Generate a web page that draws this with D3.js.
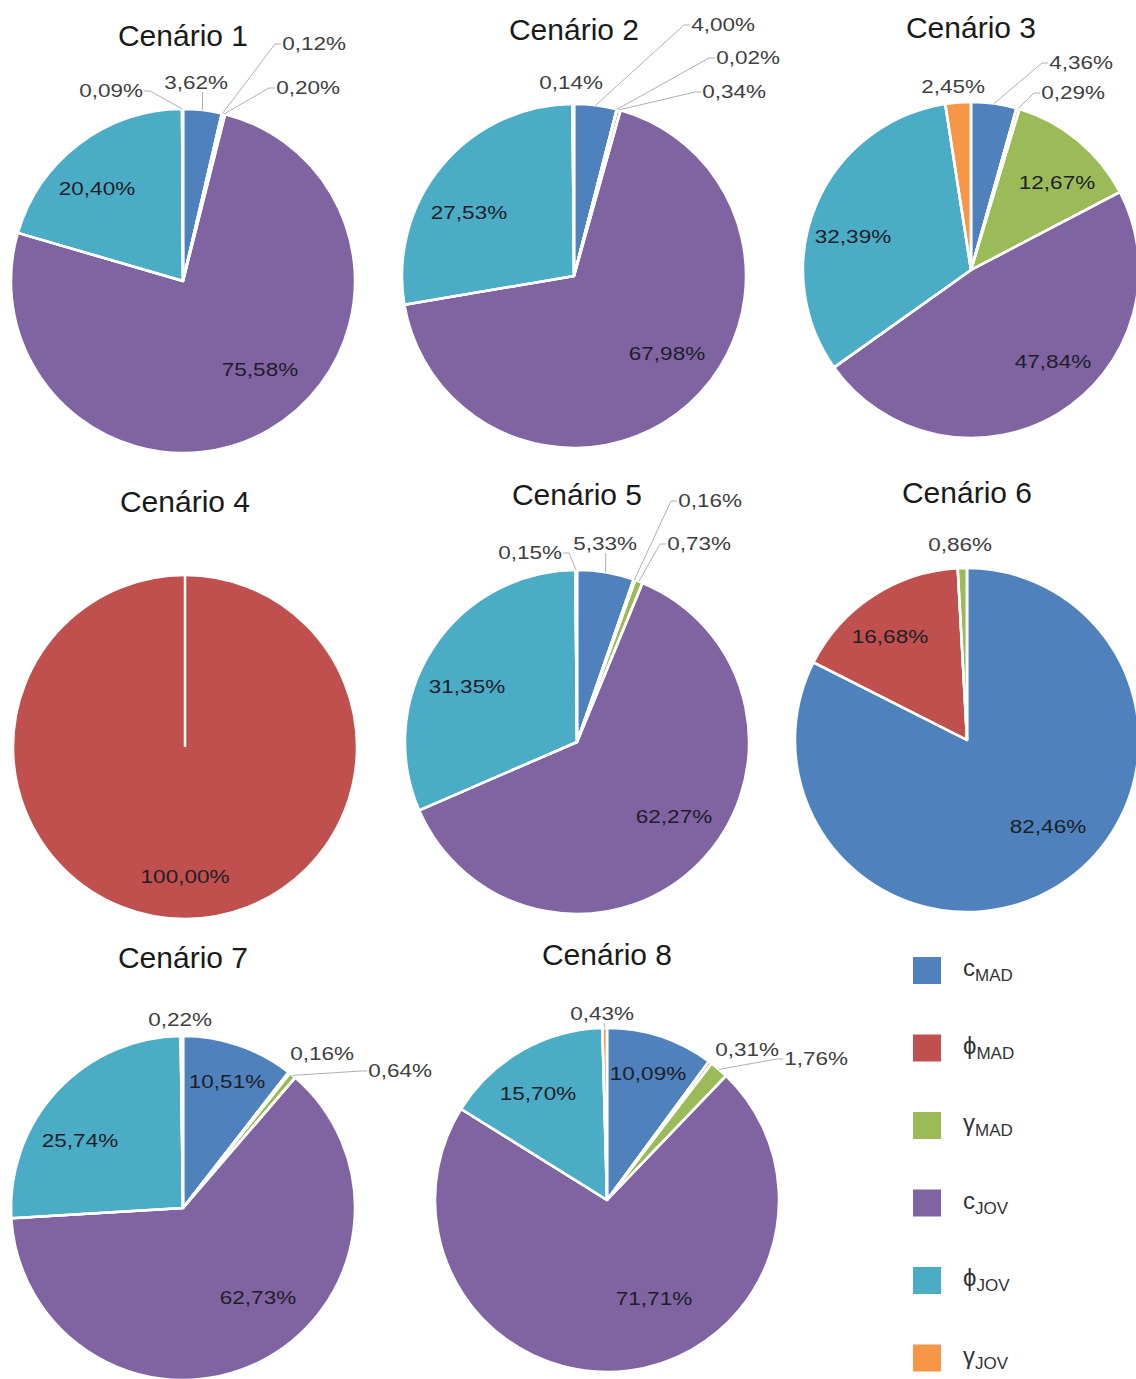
<!DOCTYPE html>
<html>
<head>
<meta charset="utf-8">
<script src="https://cdn.jsdelivr.net/npm/d3@7"></script>
<style>
  body { margin: 0; background: #fff; }
  svg { display: block; }
  text { font-family: "Liberation Sans", Arial, sans-serif; }
</style>
</head>
<body>
<svg id="chart" width="1136" height="1379"></svg>
<script>
// ---- data: share of each parameter (%) per scenario ----
const scenarios = ["Cenário 1", "Cenário 2", "Cenário 3", "Cenário 4",
                   "Cenário 5", "Cenário 6", "Cenário 7", "Cenário 8"];
const seriesBase = ["c", "ϕ", "γ", "c", "ϕ", "γ"];
const seriesSub  = ["MAD", "MAD", "MAD", "JOV", "JOV", "JOV"];

const cMAD     = [3.62, 4.00, 4.36, 0, 5.33, 82.46, 10.51, 10.09];
const phiMAD   = [0.12, 0.02, 0.29, 100.00, 0.16, 16.68, 0.16, 0.31];
const gammaMAD = [0.20, 0.34, 12.67, 0, 0.73, 0.86, 0.64, 1.76];
const cJOV     = [75.58, 67.98, 47.84, 0, 62.27, 0, 62.73, 71.71];
const phiJOV   = [20.40, 27.53, 32.39, 0, 31.35, 0, 25.74, 15.70];
const gammaJOV = [0.09, 0.14, 2.45, 0, 0.15, 0, 0.22, 0.43];
const seriesValues = [cMAD, phiMAD, gammaMAD, cJOV, phiJOV, gammaJOV];

// ---- layout ----
const seriesColors = ["#4f81bd", "#c0504d", "#9bbb59", "#8064a2", "#4bacc6", "#f79646"];
const pieCenters = [[183, 281], [574, 276], [971, 270], [185, 747],
                    [577, 742], [967, 740], [183, 1208], [607, 1200]];
const pieRadii = [172, 172, 168, 172, 172, 172, 172, 172];
const titleBaselines = [46, 40, 38, 512, 505, 503, 968, 965];

// label anchor offsets from the pie centre: [dx, dy, withLeader]
const labelPlacement = [
  [[13, -199, 1], [131, -238, 1], [125, -194, 1], [77, 88, 0], [-86, -93, 0], [-72, -191, 1]],
  [[149, -252, 1], [174, -219, 1], [160, -185, 1], [93, 77, 0], [-105, -64, 0], [-3, -194, 0]],
  [[110, -208, 1], [102, -178, 1], [86, -88, 0], [82, 91, 0], [-118, -34, 0], [-18, -184, 0]],
  [null, [0, 129, 0], null, null, null, null],
  [[28, -199, 1], [133, -242, 1], [122, -199, 1], [97, 74, 0], [-110, -56, 0], [-47, -190, 1]],
  [[81, 86, 0], [-77, -104, 0], [-7, -196, 0], null, null, null],
  [[44, -127, 0], [139, -155, 0], [217, -138, 1], [75, 89, 0], [-103, -68, 0], [-3, -189, 0]],
  [[41, -127, 0], [140, -151, 0], [209, -142, 1], [47, 98, 0], [-69, -107, 0], [-5, -187, 1]]
];

const ptBR = d3.formatLocale({ decimal: ",", thousands: ".", grouping: [3], currency: ["R$", ""] });
const fmt = v => ptBR.format(".2f")(v) + "%";

const svg = d3.select("#chart");
const pie = d3.pie().sort(null).value(d => d.value);
const labelStretch = 1.25;
const halfLabel = 32;

scenarios.forEach((title, i) => {
  const [cx, cy] = pieCenters[i];
  const r = pieRadii[i];
  const g = svg.append("g").attr("transform", `translate(${cx},${cy})`);

  const rows = seriesValues.map((vals, j) => ({ j, value: vals[i] }));
  const arcs = pie(rows).filter(a => a.data.value > 0);
  const arc = d3.arc().innerRadius(0).outerRadius(r);

  g.selectAll("path.slice").data(arcs).join("path")
    .attr("class", "slice")
    .attr("d", arc)
    .attr("fill", a => seriesColors[a.data.j])
    .attr("stroke", "#fff")
    .attr("stroke-width", 2.5)
    .attr("stroke-linejoin", "round");

  // white slice edges (also marks the seam of a full circle)
  g.selectAll("line.edge").data(arcs).join("line")
    .attr("class", "edge")
    .attr("x1", 0).attr("y1", 0)
    .attr("x2", a => r * Math.sin(a.startAngle))
    .attr("y2", a => -r * Math.cos(a.startAngle))
    .attr("stroke", "#fff")
    .attr("stroke-width", 2.5);

  // leader lines
  arcs.forEach(a => {
    const p = labelPlacement[i][a.data.j];
    if (!p || !p[2]) return;
    const mid = (a.startAngle + a.endAngle) / 2;
    const p0 = [r * Math.sin(mid), -r * Math.cos(mid)];
    let pts;
    if (Math.abs(p[0] - p0[0]) < halfLabel * 0.8) {
      pts = [p0, [p0[0], p[1] + 10]];
    } else if (p[0] > p0[0]) {
      const end = [p[0] - halfLabel - 1, p[1] + 1];
      pts = [p0, [end[0] - 6, end[1]], end];
    } else {
      const end = [p[0] + halfLabel + 1, p[1] + 1];
      pts = [p0, [end[0] + 6, end[1]], end];
    }
    g.append("path")
      .attr("d", d3.line()(pts))
      .attr("fill", "none")
      .attr("stroke", "#b0b0b0")
      .attr("stroke-width", 1);
  });

  // value labels
  arcs.forEach(a => {
    const p = labelPlacement[i][a.data.j];
    if (!p) return;
    const inside = Math.hypot(p[0], p[1]) < r - 10;
    g.append("g")
      .attr("transform", `translate(${p[0]},${p[1]}) scale(${labelStretch},1)`)
      .append("text")
      .attr("text-anchor", "middle")
      .attr("y", 6.5)
      .attr("font-size", 18)
      .attr("fill", inside ? "#1e1e28" : "#404040")
      .text(fmt(a.data.value));
  });

  svg.append("text")
    .attr("x", cx)
    .attr("y", titleBaselines[i])
    .attr("text-anchor", "middle")
    .attr("font-size", 30)
    .attr("fill", "#1a1a1a")
    .text(title);
});

// legend
const legend = svg.append("g").attr("transform", "translate(913,957)");
const step = 77.5;
seriesBase.forEach((b, j) => {
  legend.append("rect")
    .attr("x", 0).attr("y", j * step)
    .attr("width", 28).attr("height", 27)
    .attr("fill", seriesColors[j]);
  const t = legend.append("text")
    .attr("x", 50).attr("y", j * step + 19)
    .attr("font-size", 24)
    .attr("fill", "#333");
  t.append("tspan").text(b);
  t.append("tspan").attr("font-size", 17).attr("dy", 5).text(seriesSub[j]);
});
</script>
</body>
</html>
